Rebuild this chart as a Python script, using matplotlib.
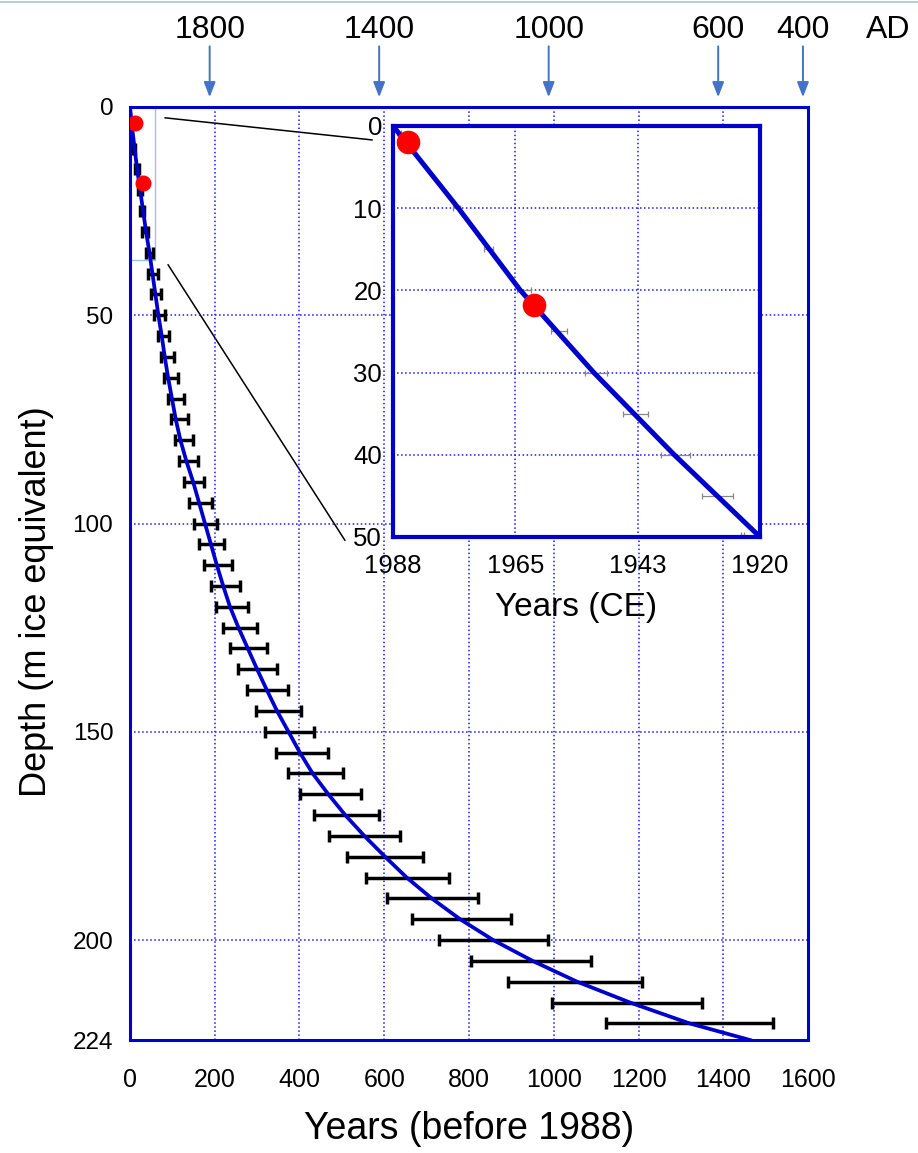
import numpy as np
import matplotlib.pyplot as plt
from matplotlib.lines import Line2D
from matplotlib.patches import Rectangle

# main curve: depth (m ice eq.) vs age (years before 1988)
curve_depth = [0, 5, 10, 15, 20, 25, 30, 35, 40, 45, 50, 55, 60, 65, 70, 75, 80,
               85, 90, 95, 100, 105, 110, 115, 120, 125, 130, 135, 140, 145, 150,
               155, 160, 165, 170, 175, 180, 185, 190, 195, 200, 205, 210, 215,
               220, 224]
curve_age = [0, 5, 11, 17, 24, 31, 38, 46, 53, 60, 67, 75, 82, 90, 99, 108, 119,
             133, 149, 163, 177, 191, 205, 220, 236, 256, 278, 300, 323, 347, 374,
             401, 431, 468, 508, 553, 602, 653, 712, 779, 857, 950, 1055, 1180,
             1320, 1463]

# error bars: depth, youngest and oldest age
bar_depth = [10, 15, 20, 25, 30, 35, 40, 45, 50, 55, 60, 65, 70, 75, 80, 85, 90,
             95, 100, 105, 110, 115, 120, 125, 130, 135, 140, 145, 150, 155, 160,
             165, 170, 175, 180, 185, 190, 195, 200, 205, 210, 215, 220]
bar_young = [7, 13, 19, 23, 29, 38, 43, 50, 57, 65, 72, 80, 89, 97, 106, 116, 128,
             139, 151, 163, 175, 190, 204, 220, 237, 256, 275, 297, 319, 345, 372,
             402, 435, 470, 511, 556, 606, 665, 729, 804, 893, 997, 1123]
bar_old = [13, 21, 29, 33, 42, 55, 65, 73, 83, 92, 104, 114, 127, 136, 149, 161,
           175, 193, 206, 223, 241, 260, 279, 300, 323, 348, 374, 404, 434, 468,
           503, 544, 588, 637, 692, 753, 822, 898, 987, 1087, 1209, 1349, 1518]

# dated horizons (red dots)
dot_age = [12, 30]
dot_depth = [3.8, 18.3]

# calendar years marked on top
top_years = [1800, 1400, 1000, 600, 400]

# inset (years CE)
inset_depth = [0, 10, 20, 30, 40, 50]
inset_year = [1988, 1975.9, 1964.4, 1950.8, 1935.9, 1920]
inset_bar_depth = [0.9, 10, 15, 20, 25, 30, 35, 40, 45, 49.8]
inset_bar_year = [1986.9, 1976.2, 1970.3, 1963.8, 1957.3, 1950.4, 1943.1,
                  1935.7, 1927.9, 1923.2]
inset_bar_err = [0.3, 0.6, 0.9, 1.3, 1.5, 2.0, 2.3, 2.7, 2.9, 0.3]
inset_dot_year = [1985.2, 1961.9]
inset_dot_depth = [2.0, 21.8]
inset_ticks = [1988, 1965.33, 1942.67, 1920]
inset_tick_labels = ['1988', '1965', '1943', '1920']

BLUE = '#0000cc'
GRID = '#1a1aff'
plt.rcParams['font.family'] = ['Liberation Sans', 'DejaVu Sans']

fig = plt.figure(figsize=(9.18, 11.53), dpi=100)
ax = fig.add_axes([0.1416, 0.0980, 0.7386, 0.8092])

ax.plot(curve_age, curve_depth, color=BLUE, lw=2.7, zorder=3)
bar_center = [(a + b) / 2.0 for a, b in zip(bar_young, bar_old)]
xerr = [[c - a for c, a in zip(bar_center, bar_young)],
        [b - c for c, b in zip(bar_center, bar_old)]]
ax.errorbar(bar_center, bar_depth, xerr=xerr, fmt='none', ecolor='black',
            elinewidth=2.5, capsize=4, capthick=2.5, zorder=2)
ax.plot(dot_age, dot_depth, 'o', color='red', markersize=10.5, zorder=4)

ax.set_xlim(0, 1600)
ax.set_ylim(224, 0)
ax.set_xticks(range(0, 1601, 200))
ax.set_yticks([0, 50, 100, 150, 200, 224])
ax.tick_params(length=0)
ax.tick_params(axis='x', labelsize=18, pad=20)
ax.tick_params(axis='y', labelsize=17.5, pad=12)
ax.grid(True, color=GRID, ls=':', lw=1.1)
for s in ax.spines.values():
    s.set_color(BLUE)
    s.set_linewidth(2.2)

ax.set_xlabel('Years (before 1988)', fontsize=27, labelpad=14)
ax.set_ylabel('Depth (m ice equivalent)', fontsize=26)
ax.yaxis.set_label_coords(-0.112, 0.47)

# zoom box and connectors
ax.add_patch(Rectangle((0, 0), 59, 36.7, fill=False, ec='#9ec0f0', lw=1.0,
                       zorder=1))
ax.plot([83, 571], [2.6, 7.9], color='black', lw=1.1, zorder=1)
ax.plot([90, 507], [37.9, 104], color='black', lw=1.1, zorder=1)

# calendar arrows on top
trans = ax.get_xaxis_transform()
for yr in top_years:
    x = 1988 - yr
    ax.annotate('', xy=(x, 1.0075), xytext=(x, 1.068), xycoords=trans,
                textcoords=trans,
                arrowprops=dict(arrowstyle='-|>,head_width=0.35,head_length=0.9',
                                color='#4472c4', lw=1.4))
    ax.text(x, 1.082, str(yr), transform=trans, ha='center', va='center',
            fontsize=23, clip_on=False)
ax.text(1789, 1.082, 'AD', transform=trans, ha='center', va='center',
        fontsize=23, clip_on=False)

# inset
ins = fig.add_axes([0.4281, 0.5343, 0.3998, 0.3565])
ins.plot(inset_year, inset_depth, color=BLUE, lw=3.6, zorder=3)
ins.errorbar(inset_bar_year, inset_bar_depth, xerr=inset_bar_err, fmt='none',
             ecolor='#888888', elinewidth=0.9, capsize=2.5, capthick=0.9,
             zorder=2)
ins.plot(inset_dot_year, inset_dot_depth, 'o', color='red', markersize=16,
         zorder=4)
ins.set_xlim(1988, 1920)
ins.set_ylim(50, 0)
ins.set_xticks(inset_ticks)
ins.set_xticklabels(inset_tick_labels)
ins.set_yticks(range(0, 51, 10))
ins.tick_params(length=0, labelsize=18.5)
ins.tick_params(axis='x', pad=12)
ins.tick_params(axis='y', pad=8)
ins.grid(True, color=GRID, ls=':', lw=1.1)
for s in ins.spines.values():
    s.set_color(BLUE)
    s.set_linewidth(3.0)
ins.set_xlabel('Years (CE)', fontsize=24, labelpad=10)

fig.add_artist(Line2D([0, 1], [0.9985, 0.9985], color='#a9c4e0', lw=1.2))

fig.savefig('out.png', dpi=100)
